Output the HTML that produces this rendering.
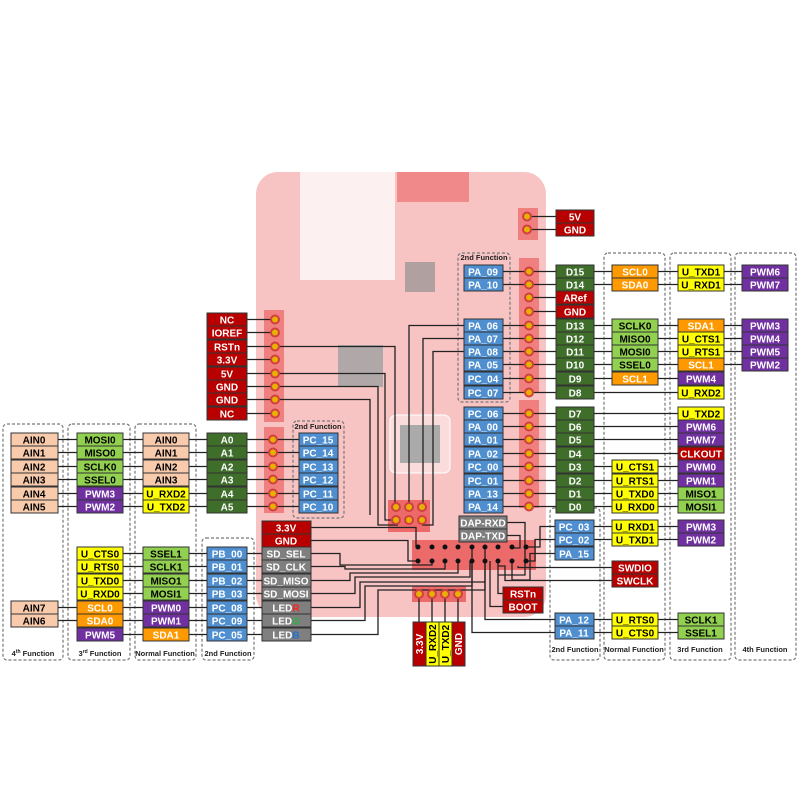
<!DOCTYPE html>
<html><head><meta charset="utf-8"><style>
body{margin:0;background:#fff}
svg text{font-family:"Liberation Sans",sans-serif;font-weight:bold;font-size:10px;text-anchor:middle}
.w{fill:#fff}.k{fill:#000}.f{font-size:7.5px;fill:#222}
.d{fill:none;stroke:#777;stroke-dasharray:3,2;stroke-width:1.2}
.l{stroke:#222;stroke-width:1.3;fill:none}
.p{fill:#e8b000;stroke:#d04040;stroke-width:2}
</style></head><body>
<svg width="800" height="800" viewBox="0 0 800 800" xmlns="http://www.w3.org/2000/svg">
<!-- board -->
<rect x="256" y="172" width="290" height="445" rx="22" fill="#f7c3c3"/>
<rect x="300" y="172" width="95" height="108" fill="#fdf0f0"/>
<rect x="397" y="172" width="72" height="30" fill="#f08a8a"/>
<rect x="405" y="262" width="30" height="30" fill="#b0a0a0"/>
<rect x="338" y="345" width="45" height="42" fill="#b0a8a8"/>
<rect x="390" y="415" width="60" height="58" rx="6" fill="#fadcdc" stroke="#fff"/>
<rect x="400" y="425" width="40" height="38" fill="#aaa"/>
<rect x="412" y="540" width="124" height="30" fill="#ec6a6a"/>
<rect x="412" y="586" width="54" height="16" fill="#ec6a6a"/>
<rect x="388" y="500" width="42" height="32" fill="#ec6a6a"/>
<rect x="264" y="310" width="20" height="112" fill="#f08080"/>
<rect x="264" y="427" width="20" height="86" fill="#f08080"/>
<rect x="519" y="258" width="20" height="134" fill="#f08080"/>
<rect x="519" y="400" width="20" height="108" fill="#f08080"/>
<rect x="518" y="208" width="20" height="32" fill="#f08080"/>

<!-- dashed boxes -->
<rect class="d" x="3" y="424" width="60" height="236" rx="4"/>
<rect class="d" x="68" y="424" width="62" height="236" rx="4"/>
<rect class="d" x="135" y="424" width="61" height="236" rx="4"/>
<rect class="d" x="202" y="538" width="52" height="122" rx="4"/>
<rect class="d" x="293" y="421" width="51" height="97" rx="4"/>
<rect class="d" x="458" y="253" width="52" height="149" rx="4"/>
<rect class="d" x="550" y="508" width="50" height="152" rx="4"/>
<rect class="d" x="604" y="253" width="61" height="407" rx="4"/>
<rect class="d" x="670" y="253" width="61" height="407" rx="4"/>
<rect class="d" x="735" y="253" width="61" height="407" rx="4"/>
<text class="f" x="33" y="656">4<tspan font-size="5" dy="-3">th</tspan><tspan dy="3"> Function</tspan></text>
<text class="f" x="100" y="656">3<tspan font-size="5" dy="-3">rd</tspan><tspan dy="3"> Function</tspan></text>
<text class="f" x="165" y="656">Normal Function</text>
<text class="f" x="228" y="656">2nd Function</text>
<text class="f" x="318" y="429">2nd Function</text>
<text class="f" x="484" y="260">2nd Function</text>
<text class="f" x="575" y="652">2nd Function</text>
<text class="f" x="634" y="652">Normal Function</text>
<text class="f" x="700" y="652">3rd Function</text>
<text class="f" x="765" y="652">4th  Function</text>

<!-- lines -->
<g class="l">
<path d="M247 319.5H275M247 332.5H275M247 346.5H275M247 359.5H275M247 373.5H275M247 386.5H275M247 399.5H275M247 413.5H275"/>
<path d="M275 346.5H395V507M275 373.5H385V520H396M275 386.5H378V525H398M275 399.5H370V515"/>
<path d="M58 439.5H299M58 452.5H299M58 466.5H299M58 479.5H299M58 493.5H299M58 506.5H299"/>
<path d="M77 553.5H262M77 566.5H262M77 580.5H262M77 593.5H262M58 607.5H262M58 620.5H262M77 634.5H262"/>
<path d="M311 527.5H416V547M311 540.5H408V561H418M310 553.5H340V565H432V561M310 566.5H345V569H445V561M310 580.5H350V573H458V561M310 593.5H355V577H470V561M310 607.5H360V582H485V561M310 620.5H365V586H472V547M310 634.5H378V590H485V547"/>
<path d="M464 325.5H409V507M464 338.5H423V507M464 351.5H433V525H422"/>
<path d="M419 594V622M432 594V622M445 594V622M458 594V622"/>
<path d="M527 216.5H556M527 229.5H556"/>
<path d="M503 271.5H742M503 284.5H742M529 297.5H556M529 311.5H556M503 325.5H742M503 338.5H742M503 351.5H742M503 364.5H742M503 378.5H678M503 392.5H678"/>
<path d="M503 413.5H678M503 426.5H678M503 439.5H678M503 453.5H678M503 466.5H678M503 480.5H678M503 493.5H678M503 506.5H678"/>
<path d="M507 522.5H525V575H498V561M507 535.5H520V548H512V547M594 526.5H678M594 539.5H678M555 526.5H540V547H526M555 539.5H535V561H526M555 553.5H530V580H512V561M612 567.5H518V566M612 580.5H505V566H498M503 593.5H498V561M503 606.5H490V561M555 619.5H485V561M555 632.5H472V561M594 619.5H678M594 632.5H678"/>
</g>

<!-- pins -->
<g class="p">
<circle cx="275" cy="319.5" r="4"/><circle cx="275" cy="332.5" r="4"/><circle cx="275" cy="346.5" r="4"/><circle cx="275" cy="359.5" r="4"/><circle cx="275" cy="373.5" r="4"/><circle cx="275" cy="386.5" r="4"/><circle cx="275" cy="399.5" r="4"/><circle cx="275" cy="413.5" r="4"/>
<circle cx="273" cy="439.5" r="4"/><circle cx="273" cy="452.5" r="4"/><circle cx="273" cy="466.5" r="4"/><circle cx="273" cy="479.5" r="4"/><circle cx="273" cy="493.5" r="4"/><circle cx="273" cy="506.5" r="4"/>
<circle cx="527" cy="216.5" r="4"/><circle cx="527" cy="229.5" r="4"/>
<circle cx="529" cy="271.5" r="4"/><circle cx="529" cy="284.5" r="4"/><circle cx="529" cy="297.5" r="4"/><circle cx="529" cy="311.5" r="4"/><circle cx="529" cy="325.5" r="4"/><circle cx="529" cy="338.5" r="4"/><circle cx="529" cy="351.5" r="4"/><circle cx="529" cy="364.5" r="4"/><circle cx="529" cy="378.5" r="4"/><circle cx="529" cy="392.5" r="4"/>
<circle cx="529" cy="413.5" r="4"/><circle cx="529" cy="426.5" r="4"/><circle cx="529" cy="439.5" r="4"/><circle cx="529" cy="453.5" r="4"/><circle cx="529" cy="466.5" r="4"/><circle cx="529" cy="480.5" r="4"/><circle cx="529" cy="493.5" r="4"/><circle cx="529" cy="506.5" r="4"/>
<circle cx="396" cy="507" r="4"/><circle cx="409" cy="507" r="4"/><circle cx="422" cy="507" r="4"/><circle cx="396" cy="520" r="4"/><circle cx="409" cy="520" r="4"/><circle cx="422" cy="520" r="4"/>
<circle cx="419" cy="594" r="4"/><circle cx="432" cy="594" r="4"/><circle cx="445" cy="594" r="4"/><circle cx="458" cy="594" r="4"/>
</g>
<g fill="#111">
<circle cx="418" cy="547" r="2.5"/><circle cx="432" cy="547" r="2.5"/><circle cx="445" cy="547" r="2.5"/><circle cx="458" cy="547" r="2.5"/><circle cx="472" cy="547" r="2.5"/><circle cx="485" cy="547" r="2.5"/><circle cx="498" cy="547" r="2.5"/><circle cx="512" cy="547" r="2.5"/><circle cx="526" cy="547" r="2.5"/>
<circle cx="418" cy="561" r="2.5"/><circle cx="432" cy="561" r="2.5"/><circle cx="445" cy="561" r="2.5"/><circle cx="458" cy="561" r="2.5"/><circle cx="472" cy="561" r="2.5"/><circle cx="485" cy="561" r="2.5"/><circle cx="498" cy="561" r="2.5"/><circle cx="512" cy="561" r="2.5"/><circle cx="526" cy="561" r="2.5"/>
</g>

<!-- boxes -->
<g stroke="#333" stroke-width="1">
<g fill="#b80000"><rect x="207" y="313" width="40" height="13"/><rect x="207" y="326" width="40" height="13"/><rect x="207" y="340" width="40" height="13"/><rect x="207" y="353" width="40" height="13"/><rect x="207" y="367" width="40" height="13"/><rect x="207" y="380" width="40" height="13"/><rect x="207" y="393" width="40" height="13"/><rect x="207" y="407" width="40" height="13"/></g>
<g fill="#f8cbad"><rect x="11" y="433" width="47" height="13"/><rect x="11" y="446" width="47" height="13"/><rect x="11" y="460" width="47" height="13"/><rect x="11" y="473" width="47" height="13"/><rect x="11" y="487" width="47" height="13"/><rect x="11" y="500" width="47" height="13"/><rect x="11" y="601" width="47" height="13"/><rect x="11" y="614" width="47" height="13"/>
<rect x="143" y="433" width="46" height="13"/><rect x="143" y="446" width="46" height="13"/><rect x="143" y="460" width="46" height="13"/><rect x="143" y="473" width="46" height="13"/></g>
<g fill="#92d050"><rect x="77" y="433" width="46" height="13"/><rect x="77" y="446" width="46" height="13"/><rect x="77" y="460" width="46" height="13"/><rect x="77" y="473" width="46" height="13"/>
<rect x="143" y="547" width="46" height="13"/><rect x="143" y="560" width="46" height="13"/><rect x="143" y="574" width="46" height="13"/><rect x="143" y="587" width="46" height="13"/>
<rect x="612" y="319" width="46" height="13"/><rect x="612" y="332" width="46" height="13"/><rect x="612" y="345" width="46" height="13"/><rect x="612" y="358" width="46" height="13"/>
<rect x="678" y="487" width="46" height="13"/><rect x="678" y="500" width="46" height="13"/><rect x="678" y="613" width="46" height="13"/><rect x="678" y="626" width="46" height="13"/></g>
<g fill="#7030a0"><rect x="77" y="487" width="46" height="13"/><rect x="77" y="500" width="46" height="13"/><rect x="77" y="628" width="46" height="13"/><rect x="143" y="601" width="46" height="13"/><rect x="143" y="614" width="46" height="13"/>
<rect x="742" y="265" width="46" height="13"/><rect x="742" y="278" width="46" height="13"/><rect x="742" y="319" width="46" height="13"/><rect x="742" y="332" width="46" height="13"/><rect x="742" y="345" width="46" height="13"/><rect x="742" y="358" width="46" height="13"/>
<rect x="678" y="372" width="46" height="13"/><rect x="678" y="420" width="46" height="13"/><rect x="678" y="433" width="46" height="13"/><rect x="678" y="460" width="46" height="13"/><rect x="678" y="474" width="46" height="13"/><rect x="678" y="520" width="46" height="13"/><rect x="678" y="533" width="46" height="13"/></g>
<g fill="#ffff00"><rect x="143" y="487" width="46" height="13"/><rect x="143" y="500" width="46" height="13"/><rect x="77" y="547" width="46" height="13"/><rect x="77" y="560" width="46" height="13"/><rect x="77" y="574" width="46" height="13"/><rect x="77" y="587" width="46" height="13"/>
<rect x="678" y="265" width="46" height="13"/><rect x="678" y="278" width="46" height="13"/><rect x="678" y="332" width="46" height="13"/><rect x="678" y="345" width="46" height="13"/><rect x="678" y="386" width="46" height="13"/><rect x="678" y="407" width="46" height="13"/>
<rect x="612" y="460" width="46" height="13"/><rect x="612" y="474" width="46" height="13"/><rect x="612" y="487" width="46" height="13"/><rect x="612" y="500" width="46" height="13"/><rect x="612" y="520" width="46" height="13"/><rect x="612" y="533" width="46" height="13"/><rect x="612" y="613" width="46" height="13"/><rect x="612" y="626" width="46" height="13"/>
<rect x="426" y="622" width="13" height="44"/><rect x="439" y="622" width="13" height="44"/></g>
<g fill="#ff9900"><rect x="77" y="601" width="46" height="13"/><rect x="77" y="614" width="46" height="13"/><rect x="143" y="628" width="46" height="13"/>
<rect x="612" y="265" width="46" height="13"/><rect x="612" y="278" width="46" height="13"/><rect x="612" y="372" width="46" height="13"/><rect x="678" y="319" width="46" height="13"/><rect x="678" y="358" width="46" height="13"/></g>
<g fill="#3f6e2a"><rect x="207" y="433" width="40" height="13"/><rect x="207" y="446" width="40" height="13"/><rect x="207" y="460" width="40" height="13"/><rect x="207" y="473" width="40" height="13"/><rect x="207" y="487" width="40" height="13"/><rect x="207" y="500" width="40" height="13"/>
<rect x="556" y="265" width="38" height="13"/><rect x="556" y="278" width="38" height="13"/><rect x="556" y="319" width="38" height="13"/><rect x="556" y="332" width="38" height="13"/><rect x="556" y="345" width="38" height="13"/><rect x="556" y="358" width="38" height="13"/><rect x="556" y="372" width="38" height="13"/><rect x="556" y="386" width="38" height="13"/>
<rect x="556" y="407" width="38" height="13"/><rect x="556" y="420" width="38" height="13"/><rect x="556" y="433" width="38" height="13"/><rect x="556" y="447" width="38" height="13"/><rect x="556" y="460" width="38" height="13"/><rect x="556" y="474" width="38" height="13"/><rect x="556" y="487" width="38" height="13"/><rect x="556" y="500" width="38" height="13"/></g>
<g fill="#b80000"><rect x="556" y="210" width="38" height="13"/><rect x="556" y="223" width="38" height="13"/><rect x="556" y="291" width="38" height="13"/><rect x="556" y="305" width="38" height="13"/><rect x="678" y="447" width="46" height="13"/>
<rect x="262" y="521" width="49" height="13"/><rect x="262" y="534" width="49" height="13"/><rect x="612" y="561" width="46" height="13"/><rect x="612" y="574" width="46" height="13"/><rect x="503" y="587" width="40" height="13"/><rect x="503" y="600" width="40" height="13"/>
<rect x="413" y="622" width="13" height="44"/><rect x="452" y="622" width="13" height="44"/></g>
<g fill="#4f8fd0"><rect x="299" y="433" width="39" height="13"/><rect x="299" y="446" width="39" height="13"/><rect x="299" y="460" width="39" height="13"/><rect x="299" y="473" width="39" height="13"/><rect x="299" y="487" width="39" height="13"/><rect x="299" y="500" width="39" height="13"/>
<rect x="207" y="547" width="40" height="13"/><rect x="207" y="560" width="40" height="13"/><rect x="207" y="574" width="40" height="13"/><rect x="207" y="587" width="40" height="13"/><rect x="207" y="601" width="40" height="13"/><rect x="207" y="614" width="40" height="13"/><rect x="207" y="628" width="40" height="13"/>
<rect x="464" y="265" width="39" height="13"/><rect x="464" y="278" width="39" height="13"/><rect x="464" y="319" width="39" height="13"/><rect x="464" y="332" width="39" height="13"/><rect x="464" y="345" width="39" height="13"/><rect x="464" y="358" width="39" height="13"/><rect x="464" y="372" width="39" height="13"/><rect x="464" y="386" width="39" height="13"/>
<rect x="464" y="407" width="39" height="13"/><rect x="464" y="420" width="39" height="13"/><rect x="464" y="433" width="39" height="13"/><rect x="464" y="447" width="39" height="13"/><rect x="464" y="460" width="39" height="13"/><rect x="464" y="474" width="39" height="13"/><rect x="464" y="487" width="39" height="13"/><rect x="464" y="500" width="39" height="13"/>
<rect x="555" y="520" width="39" height="13"/><rect x="555" y="533" width="39" height="13"/><rect x="555" y="547" width="39" height="13"/><rect x="555" y="613" width="39" height="13"/><rect x="555" y="626" width="39" height="13"/></g>
<g fill="#7f7f7f"><rect x="262" y="547" width="49" height="13"/><rect x="262" y="560" width="49" height="13"/><rect x="262" y="574" width="49" height="13"/><rect x="262" y="587" width="49" height="13"/><rect x="262" y="601" width="49" height="13"/><rect x="262" y="614" width="49" height="13"/><rect x="262" y="628" width="49" height="13"/>
<rect x="459" y="516" width="48" height="13"/><rect x="459" y="529" width="48" height="13"/></g>
</g>

<!-- text -->
<g class="w">
<text x="227" y="323.5">NC</text><text x="227" y="336.5">IOREF</text><text x="227" y="350.5">RSTn</text><text x="227" y="363.5">3.3V</text><text x="227" y="377.5">5V</text><text x="227" y="390.5">GND</text><text x="227" y="403.5">GND</text><text x="227" y="417.5">NC</text>
<text x="100" y="497.5">PWM3</text><text x="100" y="510.5">PWM2</text><text x="100" y="638.5">PWM5</text><text x="166" y="611.5">PWM0</text><text x="166" y="624.5">PWM1</text>
<text x="100" y="611.5">SCL0</text><text x="100" y="624.5">SDA0</text><text x="166" y="638.5">SDA1</text>
<text x="227" y="443.5">A0</text><text x="227" y="456.5">A1</text><text x="227" y="470.5">A2</text><text x="227" y="483.5">A3</text><text x="227" y="497.5">A4</text><text x="227" y="510.5">A5</text>
<text x="318" y="443.5">PC_15</text><text x="318" y="456.5">PC_14</text><text x="318" y="470.5">PC_13</text><text x="318" y="483.5">PC_12</text><text x="318" y="497.5">PC_11</text><text x="318" y="510.5">PC_10</text>
<text x="227" y="557.5">PB_00</text><text x="227" y="570.5">PB_01</text><text x="227" y="584.5">PB_02</text><text x="227" y="597.5">PB_03</text><text x="227" y="611.5">PC_08</text><text x="227" y="624.5">PC_09</text><text x="227" y="638.5">PC_05</text>
<text x="286" y="531.5">3.3V</text><text x="286" y="544.5">GND</text>
<text x="286" y="557.5">SD_SEL</text><text x="286" y="570.5">SD_CLK</text><text x="286" y="584.5">SD_MISO</text><text x="286" y="597.5">SD_MOSI</text>
<text x="286" y="611.5">LED<tspan fill="#ff2020">R</tspan></text><text x="286" y="624.5">LED<tspan fill="#30b040">G</tspan></text><text x="286" y="638.5">LED<tspan fill="#2070d0">B</tspan></text>
<text x="575" y="220.5">5V</text><text x="575" y="233.5">GND</text>
<text x="575" y="275.5">D15</text><text x="575" y="288.5">D14</text><text x="575" y="301.5">ARef</text><text x="575" y="315.5">GND</text><text x="575" y="329.5">D13</text><text x="575" y="342.5">D12</text><text x="575" y="355.5">D11</text><text x="575" y="368.5">D10</text><text x="575" y="382.5">D9</text><text x="575" y="396.5">D8</text>
<text x="575" y="417.5">D7</text><text x="575" y="430.5">D6</text><text x="575" y="443.5">D5</text><text x="575" y="457.5">D4</text><text x="575" y="470.5">D3</text><text x="575" y="484.5">D2</text><text x="575" y="497.5">D1</text><text x="575" y="510.5">D0</text>
<text x="483" y="275.5">PA_09</text><text x="483" y="288.5">PA_10</text><text x="483" y="329.5">PA_06</text><text x="483" y="342.5">PA_07</text><text x="483" y="355.5">PA_08</text><text x="483" y="368.5">PA_05</text><text x="483" y="382.5">PC_04</text><text x="483" y="396.5">PC_07</text>
<text x="483" y="417.5">PC_06</text><text x="483" y="430.5">PA_00</text><text x="483" y="443.5">PA_01</text><text x="483" y="457.5">PA_02</text><text x="483" y="470.5">PC_00</text><text x="483" y="484.5">PC_01</text><text x="483" y="497.5">PA_13</text><text x="483" y="510.5">PA_14</text>
<text x="483" y="526.5">DAP-RXD</text><text x="483" y="539.5">DAP-TXD</text>
<text x="574" y="530.5">PC_03</text><text x="574" y="543.5">PC_02</text><text x="574" y="557.5">PA_15</text><text x="574" y="623.5">PA_12</text><text x="574" y="636.5">PA_11</text>
<text x="635" y="275.5">SCL0</text><text x="635" y="288.5">SDA0</text><text x="635" y="382.5">SCL1</text>
<text x="701" y="329.5">SDA1</text><text x="701" y="368.5">SCL1</text><text x="701" y="382.5">PWM4</text>
<text x="765" y="275.5">PWM6</text><text x="765" y="288.5">PWM7</text><text x="765" y="329.5">PWM3</text><text x="765" y="342.5">PWM4</text><text x="765" y="355.5">PWM5</text><text x="765" y="368.5">PWM2</text>
<text x="701" y="430.5">PWM6</text><text x="701" y="443.5">PWM7</text><text x="701" y="457.5">CLKOUT</text><text x="701" y="470.5">PWM0</text><text x="701" y="484.5">PWM1</text><text x="701" y="530.5">PWM3</text><text x="701" y="543.5">PWM2</text>
<text x="635" y="571.5">SWDIO</text><text x="635" y="584.5">SWCLK</text><text x="523" y="597.5">RSTn</text><text x="523" y="610.5">BOOT</text>
<text transform="translate(423,644) rotate(-90)">3.3V</text><text transform="translate(462,644) rotate(-90)">GND</text>
</g>
<g class="k">
<text x="34" y="443.5">AIN0</text><text x="34" y="456.5">AIN1</text><text x="34" y="470.5">AIN2</text><text x="34" y="483.5">AIN3</text><text x="34" y="497.5">AIN4</text><text x="34" y="510.5">AIN5</text><text x="34" y="611.5">AIN7</text><text x="34" y="624.5">AIN6</text>
<text x="100" y="443.5">MOSI0</text><text x="100" y="456.5">MISO0</text><text x="100" y="470.5">SCLK0</text><text x="100" y="483.5">SSEL0</text>
<text x="166" y="443.5">AIN0</text><text x="166" y="456.5">AIN1</text><text x="166" y="470.5">AIN2</text><text x="166" y="483.5">AIN3</text><text x="166" y="497.5">U_RXD2</text><text x="166" y="510.5">U_TXD2</text>
<text x="100" y="557.5">U_CTS0</text><text x="100" y="570.5">U_RTS0</text><text x="100" y="584.5">U_TXD0</text><text x="100" y="597.5">U_RXD0</text>
<text x="166" y="557.5">SSEL1</text><text x="166" y="570.5">SCLK1</text><text x="166" y="584.5">MISO1</text><text x="166" y="597.5">MOSI1</text>
<text x="635" y="329.5">SCLK0</text><text x="635" y="342.5">MISO0</text><text x="635" y="355.5">MOSI0</text><text x="635" y="368.5">SSEL0</text>
<text x="701" y="275.5">U_TXD1</text><text x="701" y="288.5">U_RXD1</text><text x="701" y="342.5">U_CTS1</text><text x="701" y="355.5">U_RTS1</text><text x="701" y="396.5">U_RXD2</text><text x="701" y="417.5">U_TXD2</text>
<text x="635" y="470.5">U_CTS1</text><text x="635" y="484.5">U_RTS1</text><text x="635" y="497.5">U_TXD0</text><text x="635" y="510.5">U_RXD0</text><text x="701" y="497.5">MISO1</text><text x="701" y="510.5">MOSI1</text>
<text x="635" y="530.5">U_RXD1</text><text x="635" y="543.5">U_TXD1</text><text x="635" y="623.5">U_RTS0</text><text x="635" y="636.5">U_CTS0</text><text x="701" y="623.5">SCLK1</text><text x="701" y="636.5">SSEL1</text>
<text transform="translate(436,644) rotate(-90)">U_RXD2</text><text transform="translate(449,644) rotate(-90)">U_TXD2</text>
</g>
</svg>
</body></html>
